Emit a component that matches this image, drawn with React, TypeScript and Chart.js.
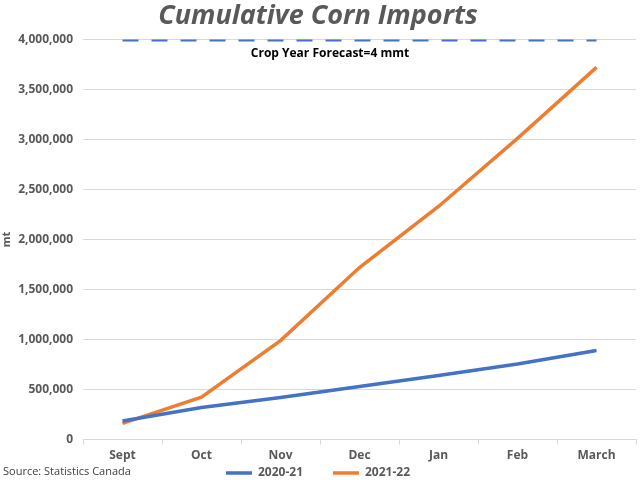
import React, { useEffect, useRef } from "react";
import { Chart, registerables } from "chart.js";

Chart.register(...registerables);

const categories = ["Sept", "Oct", "Nov", "Dec", "Jan", "Feb", "March"];
const series2020 = [185000, 320000, 420000, 530000, 640000, 755000, 890000];
const series2021 = [163000, 423000, 990000, 1720000, 2330000, 3010000, 3720000];
const forecastValue = 4000000;
const forecastLabel = "Crop Year Forecast=4 mmt";
const titleText = "Cumulative Corn Imports";
const sourceText = "Source: Statistics Canada";

const FONT = "'Open Sans', 'DejaVu Sans', sans-serif";
const GRAY = "#595959";

const annotationPlugin = {
  id: "annotations",
  afterDatasetsDraw(chart: any) {
    const { ctx, scales } = chart;
    const y = scales.y.getPixelForValue(forecastValue);
    const x = (scales.x.getPixelForValue(2) + scales.x.getPixelForValue(3)) / 2 + 10;
    ctx.save();
    ctx.font = `bold 12px ${FONT}`;
    ctx.fillStyle = "#000000";
    ctx.textAlign = "center";
    ctx.textBaseline = "middle";
    ctx.fillText(forecastLabel, x, y + 14);
    ctx.font = `11px ${FONT}`;
    ctx.fillStyle = "#404040";
    ctx.textAlign = "left";
    ctx.fillText(sourceText, 3, chart.height - 8);
    ctx.restore();
  },
};

export default function App() {
  const ref = useRef<HTMLCanvasElement | null>(null);
  useEffect(() => {
    document.body.style.margin = "0";
    if (!ref.current) return;
    const chart = new Chart(ref.current, {
      type: "line",
      data: {
        labels: categories,
        datasets: [
          {
            label: "2020-21",
            data: series2020,
            borderColor: "#4472c4",
            backgroundColor: "#4472c4",
            borderWidth: 3.5,
            pointRadius: 0,
            tension: 0,
          },
          {
            label: "2021-22",
            data: series2021,
            borderColor: "#ed7d31",
            backgroundColor: "#ed7d31",
            borderWidth: 3.5,
            pointRadius: 0,
            tension: 0,
          },
          {
            label: "Forecast",
            data: categories.map(() => forecastValue),
            borderColor: "#4472c4",
            backgroundColor: "#4472c4",
            borderWidth: 4,
            borderDash: [16, 13],
            borderCapStyle: "butt",
            pointRadius: 0,
          },
        ],
      },
      options: {
        animation: false,
        responsive: false,
        maintainAspectRatio: false,
        layout: { padding: { left: 0, right: 4, top: 0, bottom: -9 } },
        plugins: {
          title: {
            display: true,
            text: titleText,
            color: GRAY,
            font: { family: FONT, size: 27, weight: "bold", style: "italic" },
            padding: { top: 0, bottom: 7 },
          },
          legend: {
            position: "bottom",
            labels: {
              generateLabels: (chart: any) => {
                const items = Chart.defaults.plugins.legend.labels.generateLabels(chart);
                return items
                  .filter((it: any) => it.text !== "Forecast")
                  .map((it: any, i: number, arr: any[]) => ({
                    ...it,
                    text: i < arr.length - 1 ? it.text + "\u2003\u2003\u2002" : it.text,
                  }));
              },
              usePointStyle: true,
              pointStyle: "line",
              pointStyleWidth: 26,
              color: GRAY,
              font: { family: FONT, size: 12, weight: "bold" },
              padding: 0,
              boxHeight: 12,
            },
          },
          tooltip: { enabled: false },
        },
        scales: {
          x: {
            offset: true,
            grid: {
              offset: true,
              drawOnChartArea: false,
              drawTicks: true,
              tickLength: 5,
              color: "#d9d9d9",
            },
            border: { display: true, color: "#d9d9d9" },
            ticks: {
              color: GRAY,
              font: { family: FONT, size: 12, weight: "bold" },
              padding: 4,
            },
          },
          y: {
            min: 0,
            max: 4000000,
            afterFit: (scale: any) => {
              scale.width = 83;
            },
            ticks: {
              stepSize: 500000,
              color: GRAY,
              font: { family: FONT, size: 12, weight: "bold" },
              padding: 10,
              callback: (v: any) => Number(v).toLocaleString("en-US"),
            },
            grid: { color: "#d9d9d9", drawTicks: false, lineWidth: 1 },
            border: { display: false },
            title: {
              display: true,
              text: "mt",
              color: GRAY,
              font: { family: FONT, size: 11, weight: "bold" },
              padding: 0,
            },
          },
        },
      },
      plugins: [annotationPlugin],
    });
    return () => chart.destroy();
  }, []);
  return (
    <div style={{ width: 640, height: 480 }}>
      <canvas ref={ref} width={640} height={480} style={{ display: "block" }} />
    </div>
  );
}
